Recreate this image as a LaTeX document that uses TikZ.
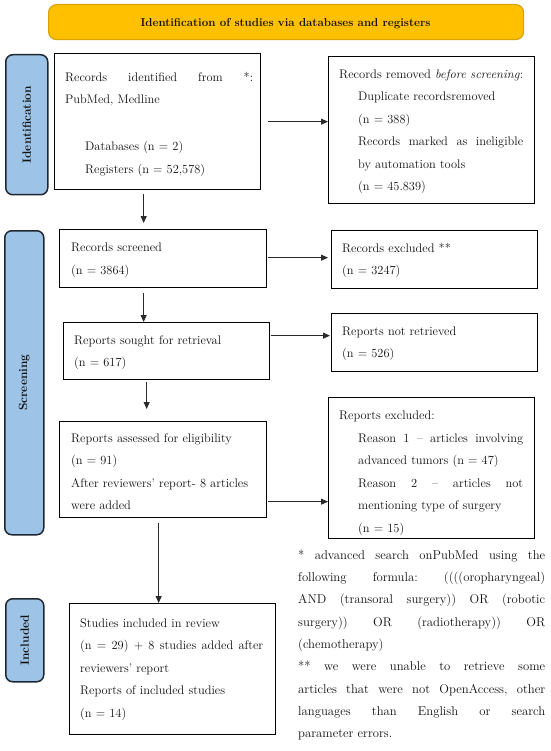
\documentclass[tikz,border=0pt]{standalone}
\usepackage{fontspec}
\usetikzlibrary{arrows.meta,calc}
\definecolor{titlefill}{HTML}{FFC000}
\definecolor{titledraw}{HTML}{D9A400}
\definecolor{sidefill}{HTML}{9DC3E6}
\definecolor{sidedraw}{HTML}{1E2833}
\definecolor{arrowc}{HTML}{2A2A2A}
\definecolor{textc}{HTML}{111111}
\newcommand\jline[2]{\makebox[#1][s]{\frenchspacing\spaceskip=0pt\xspaceskip=0pt #2}}
\begin{document}
\frenchspacing
\begin{tikzpicture}[x=1pt,y=-1pt,
  box/.style={draw=black,line width=1.3pt,inner sep=0pt,anchor=north west,fill=white},
  sidebox/.style={draw=sidedraw,line width=1.5pt,fill=sidefill,rounded corners=7pt,inner sep=0pt,anchor=north west},
  sidetext/.style={font=\fontsize{11.9}{14}\selectfont\bfseries,text=textc,rotate=90,inner sep=0pt},
  txt/.style={anchor=north west,inner sep=0pt,align=left,text width=260pt,text=textc,font=\fontsize{12.4}{22.5}\selectfont},
  arr/.style={draw=arrowc,line width=0.9pt,-{Triangle[length=7pt,width=6pt]}}]
\fill[white] (0,0) rectangle (550,751);
\useasboundingbox (0,0) rectangle (550,751);

% title
\node[draw=titledraw,line width=1.2pt,fill=titlefill,rounded corners=8pt,inner sep=0pt,anchor=north west,minimum width=475pt,minimum height=35pt] (title) at (48,4) {};
\node[anchor=base,inner sep=0pt,font=\fontsize{11.5}{14}\selectfont\bfseries,text=textc] (titletext) at (285.5,27) {Identification of studies via databases and registers};

% side labels
\node[sidebox,minimum width=42pt,minimum height=140pt] (l1) at (5,54) {};
\node[sidetext] (l1t) at (l1.center) {Identification};
\node[sidebox,minimum width=39pt,minimum height=304pt] (l2) at (4,230) {};
\node[sidetext] (l2t) at (l2.center) {Screening};
\node[sidebox,minimum width=38pt,minimum height=83pt] (l3) at (5,598) {};
\node[sidetext] (l3t) at (l3.center) {Included};

% boxes
\node[box,minimum width=206pt,minimum height=136pt] (b1) at (54,53) {};
\node[box,minimum width=206pt,minimum height=147pt] (rem) at (328,56) {};
\node[box,minimum width=207pt,minimum height=58pt] (scr) at (59,229) {};
\node[box,minimum width=206pt,minimum height=58pt] (exc) at (331,230) {};
\node[box,minimum width=206pt,minimum height=57pt] (sou) at (63,322) {};
\node[box,minimum width=206pt,minimum height=58pt] (nre) at (331,313) {};
\node[box,minimum width=207pt,minimum height=96pt] (ass) at (59,421) {};
\node[box,minimum width=206pt,minimum height=141pt] (rex) at (328,397) {};
\node[box,minimum width=206pt,minimum height=131pt] (inc) at (69,603) {};

% texts
\node[txt] (tb1) at (65,71) {\rule{0pt}{10pt}\jline{188pt}{Records identified from *:}\\
PubMed, Medline\\[24.6pt]
\hspace*{20pt}Databases (n = 2)\\
\hspace*{20pt}Registers (n = 52,578)};

\node[txt] (trem) at (339,68) {\rule{0pt}{10pt}\resizebox{184pt}{\height}{Records removed \textit{before screening}:}\\
\hspace*{19pt}Duplicate recordsremoved\\
\hspace*{19pt}(n = 388)\\
\hspace*{19pt}\jline{165pt}{Records marked as ineligible}\\
\hspace*{19pt}by automation tools\\
\hspace*{19pt}(n = 45.839)};

\node[txt] (tscr) at (71,241.5) {\rule{0pt}{10pt}Records screened\\(n = 3864)};
\node[txt] (texc) at (342,242) {\rule{0pt}{10pt}Records excluded **\\(n = 3247)};
\node[txt] (tsou) at (74,334) {\rule{0pt}{10pt}Reports sought for retrieval\\(n = 617)};
\node[txt] (tnre) at (342,325) {\rule{0pt}{10pt}Reports not retrieved\\(n = 526)};

\node[txt] (tass) at (71,432) {\rule{0pt}{10pt}Reports assessed for eligibility\\
(n = 91)\\
After reviewers' report- 8 articles\\
were added};

\node[txt] (trex) at (339,409.5) {\rule{0pt}{10pt}Reports excluded:\\
\hspace*{19pt}\jline{165pt}{Reason 1 -- articles involving}\\
\hspace*{19pt}advanced tumors (n = 47)\\
\hspace*{19pt}\jline{165pt}{Reason 2 -- articles not}\\
\hspace*{19pt}mentioning type of surgery\\
\hspace*{19pt}(n = 15)};

\node[txt] (tinc) at (80,617) {\rule{0pt}{10pt}Studies included in review\\
\jline{183pt}{(n = 29) + 8 studies added after}\\
reviewers' report\\
Reports of included studies\\
(n = 14)};

\node[txt,font=\fontsize{12.7}{22.3}\selectfont] (tfoot) at (298,549) {\rule{0pt}{10pt}\jline{247pt}{* advanced search onPubMed using the}\\
\jline{247pt}{following formula: ((((oropharyngeal)}\\
\jline{247pt}{AND (transoral surgery)) OR (robotic}\\
\jline{247pt}{surgery)) OR (radiotherapy)) OR}\\
(chemotherapy)\\
\jline{247pt}{** we were unable to retrieve some}\\
\jline{247pt}{articles that were not OpenAccess, other}\\
\jline{247pt}{languages than English or search}\\
parameter errors.};

% vertical arrows
\coordinate (a1s) at ($(b1.south)+(-14,4)$);
\draw[arr] (a1s) -- ($(a1s |- scr.north)+(0,-6)$);
\coordinate (a2s) at ($(scr.south)+(-19.5,5)$);
\draw[arr] (a2s) -- (a2s |- sou.north);
\coordinate (a3s) at ($(sou.south)+(-20,1.5)$);
\draw[arr] (a3s) -- ($(a3s |- ass.north)+(0,-12)$);
\coordinate (a4s) at ($(ass.south)+(-4.5,5)$);
\draw[arr] (a4s) -- (a4s |- inc.north);

% horizontal arrows
\coordinate (h1s) at ($(b1.east)+(7,0)$);
\draw[arr] (h1s) -- (h1s -| rem.west);
\coordinate (h2s) at ($(scr.east)+(0.5,-1)$);
\draw[arr] (h2s) -- ($(h2s -| exc.west)+(-3,0)$);
\coordinate (h3s) at ($(sou.east)+(0.5,-15.5)$);
\draw[arr] (h3s) -- ($(h3s -| nre.west)+(-1,0)$);
\coordinate (h4s) at ($(ass.east)+(0.5,32)$);
\draw[arr] (h4s) -- (h4s -| rex.west);
\end{tikzpicture}
\end{document}
